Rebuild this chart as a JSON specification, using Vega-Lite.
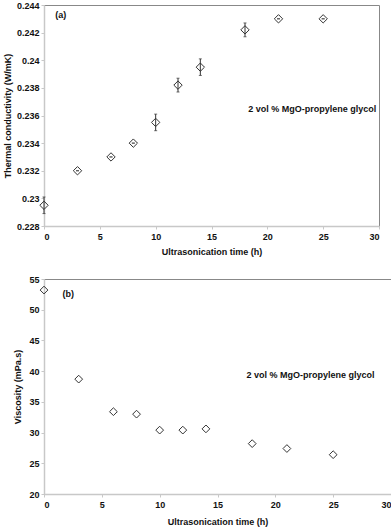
{
  "$schema": "https://vega.github.io/schema/vega-lite/v6.json",
  "padding": {"top": 0, "left": 2, "right": 2, "bottom": 0},
  "background": "white",
  "config": {
    "font": "Liberation Sans",
    "view": {"stroke": "#888888", "strokeWidth": 1},
    "axis": {
      "grid": false,
      "labelOverlap": false,
      "domainColor": "#c8c8c8",
      "domainWidth": 1.5,
      "tickColor": "#c8c8c8",
      "tickSize": 3,
      "labelFont": "Liberation Sans",
      "labelFontWeight": "bold",
      "labelFontSize": 9,
      "labelColor": "#111111",
      "titleFont": "Liberation Sans",
      "titleFontWeight": "bold",
      "titleFontSize": 9,
      "titleColor": "#111111"
    }
  },
  "columns": 1,
  "align": "none",
  "spacing": 17,
  "concat": [
    {
      "width": 335,
      "height": 221,
      "data": {"values": [
        {"t": 0, "k": 0.2295, "lo": 0.2289, "hi": 0.2301},
        {"t": 3, "k": 0.2320, "lo": 0.2320, "hi": 0.2320},
        {"t": 6, "k": 0.2330, "lo": 0.2330, "hi": 0.2330},
        {"t": 8, "k": 0.2340, "lo": 0.2340, "hi": 0.2340},
        {"t": 10, "k": 0.2355, "lo": 0.2349, "hi": 0.2361},
        {"t": 12, "k": 0.2382, "lo": 0.2377, "hi": 0.2387},
        {"t": 14, "k": 0.2395, "lo": 0.2389, "hi": 0.2401},
        {"t": 18, "k": 0.2422, "lo": 0.2417, "hi": 0.2427},
        {"t": 21, "k": 0.2430, "lo": 0.2430, "hi": 0.2430},
        {"t": 25, "k": 0.2430, "lo": 0.2430, "hi": 0.2430}
      ]},
      "layer": [
        {
          "mark": {"type": "point", "shape": "diamond", "size": 70, "filled": false, "stroke": "#333333", "strokeWidth": 1, "opacity": 1},
          "encoding": {
            "x": {"field": "t", "type": "quantitative", "scale": {"domain": [0, 30], "nice": false},
              "axis": {"title": "Ultrasonication time (h)", "values": [0, 5, 10, 15, 20, 25, 30], "labelOverlap": false, "titlePadding": 6, "labelPadding": 3}},
            "y": {"field": "k", "type": "quantitative", "scale": {"domain": [0.228, 0.244], "nice": false, "zero": false},
              "axis": {"title": "Thermal conductivity (W/mK)", "values": [0.228, 0.23, 0.232, 0.234, 0.236, 0.238, 0.24, 0.242, 0.244], "labelOverlap": false, "format": "~g", "titlePadding": 4, "labelPadding": 2}}
          }
        },
        {
          "mark": {"type": "rule", "color": "#333333", "strokeWidth": 1},
          "encoding": {
            "x": {"field": "t", "type": "quantitative",
              "axis": {"title": "Ultrasonication time (h)", "values": [0, 5, 10, 15, 20, 25, 30], "labelOverlap": false, "titlePadding": 6, "labelPadding": 3}},
            "y": {"field": "lo", "type": "quantitative",
              "axis": {"title": "Thermal conductivity (W/mK)", "values": [0.228, 0.23, 0.232, 0.234, 0.236, 0.238, 0.24, 0.242, 0.244], "labelOverlap": false, "format": "~g", "titlePadding": 4, "labelPadding": 2}},
            "y2": {"field": "hi"}
          }
        },
        {
          "mark": {"type": "tick", "orient": "horizontal", "color": "#333333", "size": 3, "thickness": 1},
          "encoding": {
            "x": {"field": "t", "type": "quantitative",
              "axis": {"title": "Ultrasonication time (h)", "values": [0, 5, 10, 15, 20, 25, 30], "labelOverlap": false, "titlePadding": 6, "labelPadding": 3}},
            "y": {"field": "lo", "type": "quantitative",
              "axis": {"title": "Thermal conductivity (W/mK)", "values": [0.228, 0.23, 0.232, 0.234, 0.236, 0.238, 0.24, 0.242, 0.244], "labelOverlap": false, "format": "~g", "titlePadding": 4, "labelPadding": 2}}
          }
        },
        {
          "mark": {"type": "tick", "orient": "horizontal", "color": "#333333", "size": 3, "thickness": 1},
          "encoding": {
            "x": {"field": "t", "type": "quantitative",
              "axis": {"title": "Ultrasonication time (h)", "values": [0, 5, 10, 15, 20, 25, 30], "labelOverlap": false, "titlePadding": 6, "labelPadding": 3}},
            "y": {"field": "hi", "type": "quantitative",
              "axis": {"title": "Thermal conductivity (W/mK)", "values": [0.228, 0.23, 0.232, 0.234, 0.236, 0.238, 0.24, 0.242, 0.244], "labelOverlap": false, "format": "~g", "titlePadding": 4, "labelPadding": 2}}
          }
        },
        {
          "data": {"values": [
            {"tx": 1.0, "ty": 0.2433, "label": "(a)"},
            {"tx": 18.3, "ty": 0.2365, "label": "2 vol % MgO-propylene glycol"}
          ]},
          "mark": {"type": "text", "align": "left", "baseline": "middle", "font": "Liberation Sans", "fontWeight": "bold", "fontSize": 9, "color": "#111111"},
          "encoding": {
            "x": {"field": "tx", "type": "quantitative",
              "axis": {"title": "Ultrasonication time (h)", "values": [0, 5, 10, 15, 20, 25, 30], "labelOverlap": false, "titlePadding": 6, "labelPadding": 3}},
            "y": {"field": "ty", "type": "quantitative",
              "axis": {"title": "Thermal conductivity (W/mK)", "values": [0.228, 0.23, 0.232, 0.234, 0.236, 0.238, 0.24, 0.242, 0.244], "labelOverlap": false, "format": "~g", "titlePadding": 4, "labelPadding": 2}},
            "text": {"field": "label"}
          }
        }
      ]
    },
    {
      "width": 347,
      "height": 215,
      "data": {"values": [
        {"t": 0, "v": 53.2},
        {"t": 3, "v": 38.7},
        {"t": 6, "v": 33.4},
        {"t": 8, "v": 33.0},
        {"t": 10, "v": 30.4},
        {"t": 12, "v": 30.4},
        {"t": 14, "v": 30.6},
        {"t": 18, "v": 28.2},
        {"t": 21, "v": 27.4},
        {"t": 25, "v": 26.4}
      ]},
      "layer": [
        {
          "mark": {"type": "point", "shape": "diamond", "size": 60, "filled": false, "stroke": "#333333", "strokeWidth": 1, "opacity": 1},
          "encoding": {
            "x": {"field": "t", "type": "quantitative", "scale": {"domain": [0, 30], "nice": false},
              "axis": {"title": "Ultrasonication time (h)", "values": [0, 5, 10, 15, 20, 25, 30], "labelOverlap": false, "titlePadding": 8, "labelPadding": 3}},
            "y": {"field": "v", "type": "quantitative", "scale": {"domain": [20, 55], "nice": false, "zero": false},
              "axis": {"title": "Viscosity (mPa.s)", "values": [20, 25, 30, 35, 40, 45, 50, 55], "labelOverlap": false, "titlePadding": 6, "labelPadding": 2}}
          }
        },
        {
          "data": {"values": [
            {"tx": 1.6, "ty": 52.6, "label": "(b)"},
            {"tx": 17.5, "ty": 39.4, "label": "2 vol % MgO-propylene glycol"}
          ]},
          "mark": {"type": "text", "align": "left", "baseline": "middle", "font": "Liberation Sans", "fontWeight": "bold", "fontSize": 9, "color": "#111111"},
          "encoding": {
            "x": {"field": "tx", "type": "quantitative",
              "axis": {"title": "Ultrasonication time (h)", "values": [0, 5, 10, 15, 20, 25, 30], "labelOverlap": false, "titlePadding": 8, "labelPadding": 3}},
            "y": {"field": "ty", "type": "quantitative",
              "axis": {"title": "Viscosity (mPa.s)", "values": [20, 25, 30, 35, 40, 45, 50, 55], "labelOverlap": false, "titlePadding": 6, "labelPadding": 2}},
            "text": {"field": "label"}
          }
        }
      ]
    }
  ]
}
